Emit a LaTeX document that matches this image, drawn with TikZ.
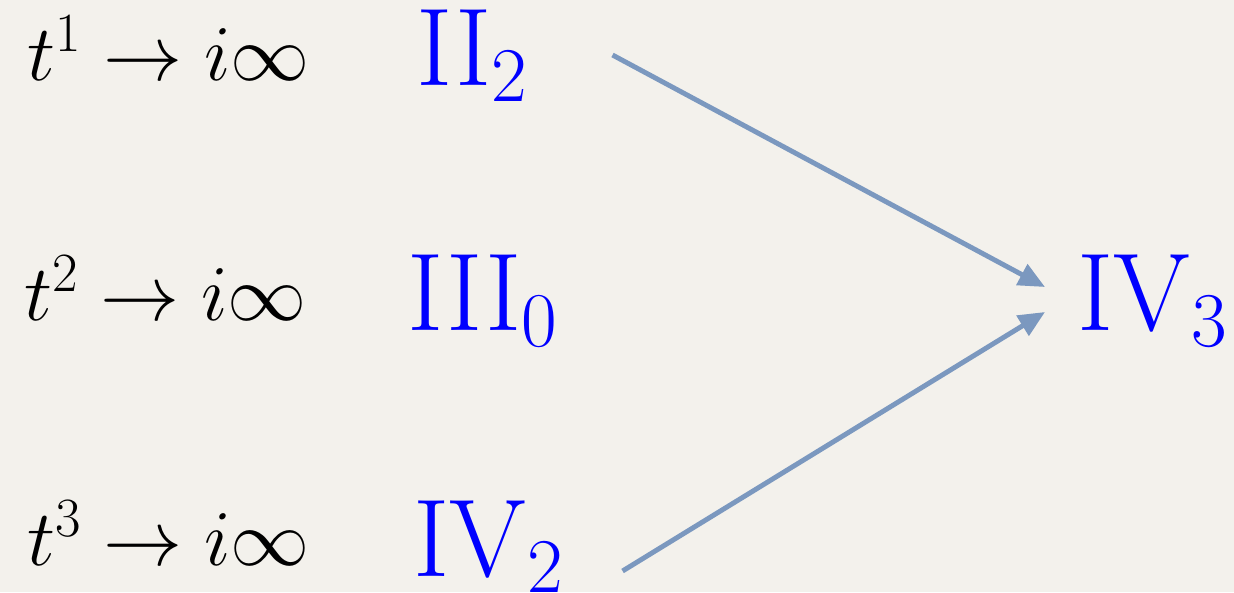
\documentclass[tikz,border=0pt]{standalone}
\usepackage{fix-cm}
\usepackage{amssymb,amsfonts}
\usepackage{xcolor}
\usetikzlibrary{arrows.meta}

\definecolor{paper}{HTML}{F3F1EC}
\definecolor{degblue}{HTML}{7B98BF}

\tikzset{
  limit/.style={anchor=base west, inner sep=0pt, font=\fontsize{45}{52}\selectfont},
  fibre/.style={anchor=base west, inner sep=0pt, text=blue, font=\fontsize{63}{72}\selectfont},
  flow/.style={draw=degblue, line width=2.8pt, -{Triangle[length=15pt, width=13pt]}}
}

\begin{document}
\begin{tikzpicture}[x=0.02cm, y=-0.02cm]
        % page and background
        \fill[paper] (0,0) rectangle (1234,592);
        \useasboundingbox (0,0) rectangle (1234,592);

        % the three limits
        \node[limit] (lim1) at (27,80) {$t^1 \to i\infty$};
        \node[limit] (lim2) at (24,320) {$t^2 \to i\infty$};
        \node[limit] (lim3) at (27,565) {$t^3 \to i\infty$};

        % fibre types
        \node[fibre] (ii2) at (416,85) {$\mathrm{II}_2$};
        \node[fibre] (iii0) at (407,330) {$\mathrm{III}_0$};
        \node[fibre] (iv2) at (413,576) {$\mathrm{IV}_2$};
        \node[fibre] (iv3) at (1077,330) {$\mathrm{IV}_3$};

        % degenerations
        \draw[flow] ([shift={(84,-30)}]ii2.base east) -- ([shift={(-32,-43)}]iv3.base west);
        \draw[flow] ([shift={(58,-5)}]iv2.base east) -- ([shift={(-32,-18)}]iv3.base west);
\end{tikzpicture}
\end{document}
